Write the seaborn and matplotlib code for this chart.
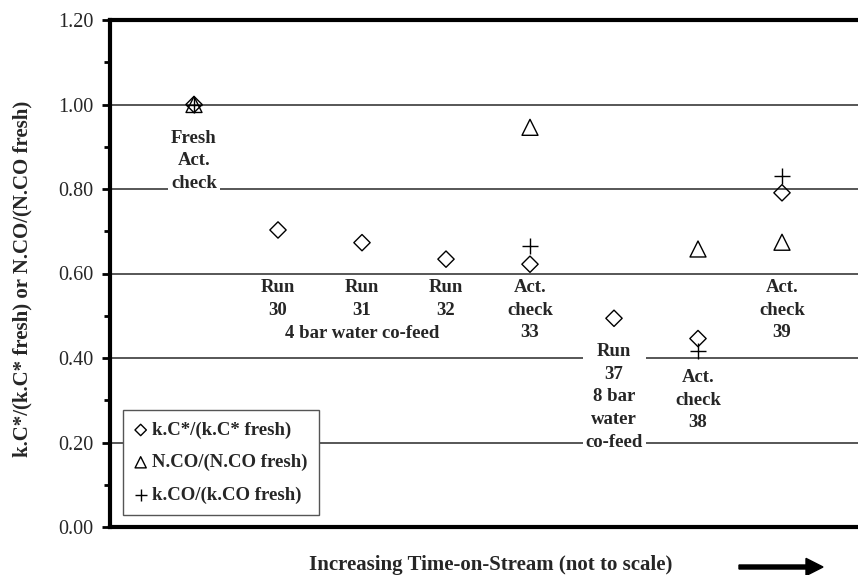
import matplotlib
matplotlib.use("Agg")
import matplotlib.pyplot as plt
import seaborn as sns
import pandas as pd
import numpy as np

# ---- data ----
positions = [1, 2, 3, 4, 5, 6, 7, 8]
kc_star = [1.00, 0.703, 0.673, 0.634, 0.622, 0.494, 0.446, 0.791]
nco_pos = [1, 5, 7, 8]
nco = [1.00, 0.946, 0.658, 0.674]
kco_pos = [1, 5, 7, 8]
kco = [1.00, 0.666, 0.417, 0.831]
series_names = ["k.C*/(k.C* fresh)", "N.CO/(N.CO fresh)", "k.CO/(k.CO fresh)"]
annot_pos = [1, 2, 3, 4, 3, 5, 6, 7, 8]
annot_y = [0.94, 0.587, 0.587, 0.587, 0.478, 0.587, 0.435, 0.374, 0.587]
annot_text = ["Fresh\nAct.\ncheck", "Run\n30", "Run\n31", "Run\n32", "4 bar water co-feed",
              "Act.\ncheck\n33", "Run\n37\n8 bar\nwater\nco-feed", "Act.\ncheck\n38",
              "Act.\ncheck\n39"]
y_ticks = [0.0, 0.2, 0.4, 0.6, 0.8, 1.0, 1.2]
y_label = "k.C*/(k.C* fresh) or N.CO/(N.CO fresh)"
x_label = "Increasing Time-on-Stream (not to scale)"

sns.set_theme(style="white")
plt.rcParams['font.family'] = ['Liberation Serif', 'DejaVu Serif']

fig = plt.figure(figsize=(8.58, 5.75), dpi=100)
ax = fig.add_axes([110/858, 48/575, 756/858, 507/575])

df1 = pd.DataFrame({"x": positions, "y": kc_star})
df2 = pd.DataFrame({"x": nco_pos, "y": nco})
df3 = pd.DataFrame({"x": kco_pos, "y": kco})

sns.scatterplot(data=df1, x="x", y="y", ax=ax, marker="D", s=8.3**2,
                facecolors="none", edgecolor="black", linewidth=1.0, zorder=5,
                label=series_names[0])
sns.scatterplot(data=df2, x="x", y="y", ax=ax, marker="^", s=11.5**2,
                facecolors="none", edgecolor="black", linewidth=1.0, zorder=5,
                label=series_names[1])
sns.scatterplot(data=df3, x="x", y="y", ax=ax, marker="+", s=11.5**2,
                color="black", linewidth=1.0, zorder=5,
                label=series_names[2])

ax.set_xlim(0, 9)
ax.set_ylim(0, 1.2)
ax.set_yticks(y_ticks)
ax.set_yticklabels([f"{v:.2f}" for v in y_ticks], fontsize=14.5)
ax.set_yticks(np.arange(0.1, 1.2, 0.2), minor=True)
ax.set_xticks([])
ax.tick_params(axis="y", which="both", direction="out", left=True, width=2,
               color="black", pad=6)
ax.tick_params(axis="y", which="major", length=6)
ax.tick_params(axis="y", which="minor", length=4)

for v in [0.2, 0.4, 0.6, 0.8, 1.0]:
    ax.axhline(v, color="#3a3a3a", lw=1.2, zorder=1)

for side in ["top", "left", "bottom"]:
    ax.spines[side].set_visible(True)
    ax.spines[side].set_linewidth(3)
    ax.spines[side].set_color("black")
ax.spines["right"].set_visible(False)

ax.set_xlabel("")
ax.set_ylabel(y_label, fontsize=15, fontweight="bold")
ax.yaxis.set_label_coords((32 - 110) / 756, 0.49)

for px, py, t in zip(annot_pos, annot_y, annot_text):
    ax.text(px, py, t, ha="center", va="top", fontsize=13.5, fontweight="bold",
            linespacing=1.43, zorder=3,
            bbox=dict(facecolor="white", edgecolor="none", pad=2))

leg = ax.legend(loc="lower left", bbox_to_anchor=(0.017, 0.024), borderaxespad=0,
                prop={"weight": "bold", "size": 13.5}, frameon=True, fancybox=False,
                edgecolor="#555555", framealpha=1, handlelength=0.7,
                handletextpad=0.25, labelspacing=0.8, borderpad=0.6,
                markerscale=0.7)
leg.get_frame().set_linewidth(1.0)
leg.set_zorder(10)

fig.text(491/858, 1 - 565/575, x_label, ha="center", va="center", fontsize=15,
         fontweight="bold")
fig.add_artist(matplotlib.patches.FancyArrow(
    739/858, 1 - 567/575, 67/858, 0, width=0.007, head_width=0.03,
    head_length=17/858, length_includes_head=False, color="black",
    transform=fig.transFigure))

fig.savefig("out.png", dpi=100)
